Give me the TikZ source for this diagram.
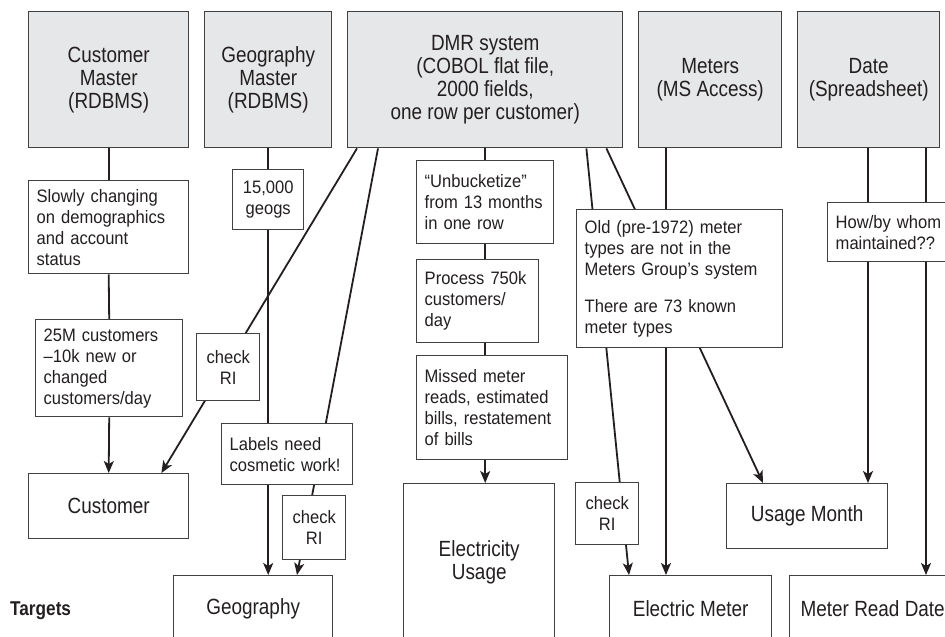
\documentclass[tikz,border=0pt]{standalone}
\usepackage{fontspec}
\setmainfont{Liberation Sans}
\newfontfamily\smallff[FakeStretch=0.92]{Liberation Sans}
\newfontfamily\bigff[FakeStretch=0.86]{Liberation Sans}
\usetikzlibrary{arrows.meta,backgrounds}
\definecolor{boxgray}{RGB}{230,231,232}
\definecolor{ink}{RGB}{35,31,32}
\definecolor{edgec}{RGB}{64,64,64}
\tikzset{
 srcbox/.style={draw=edgec, line width=1.4pt, fill=boxgray, anchor=north west, inner sep=0pt, align=center, font=\bigff\fontsize{22}{23}\selectfont, text=ink},
 tgtbox/.style={draw=edgec, line width=1.4pt, fill=white, anchor=north west, inner sep=0pt, align=center, font=\bigff\fontsize{22}{23}\selectfont, text=ink},
 notebox/.style={draw=edgec, line width=1.4pt, fill=white, anchor=north west, inner xsep=8pt, inner ysep=0pt, align=left, font=\smallff\fontsize{18}{21}\selectfont, text=ink},
 cnote/.style={notebox, align=center, inner xsep=0pt},
 conn/.style={draw=ink, line width=1.8pt},
 arr/.style={conn, -{Stealth[length=12pt,width=10pt,inset=3pt]}},
}
\begin{document}
\begin{tikzpicture}[x=1pt,y=-1pt]
\useasboundingbox (0,0) rectangle (945,637);
\clip (0,0) rectangle (945,637);
% sources
\node[srcbox, minimum width=160pt, minimum height=136pt] (cm) at (28,11) {Customer\\Master\\(RDBMS)};
\node[srcbox, minimum width=127pt, minimum height=136pt] (gm) at (204,11) {Geography\\Master\\(RDBMS)};
\node[srcbox, minimum width=275pt, minimum height=136pt] (dmr) at (347,11) {DMR system\\(COBOL flat file,\\2000 fields,\\one row per customer)};
\node[srcbox, minimum width=143pt, minimum height=136pt] (met) at (638,11) {Meters\\(MS Access)};
\node[srcbox, minimum width=142pt, minimum height=136pt] (date) at (797,11) {Date\\(Spreadsheet)};
% notes
\node[notebox, text width=144pt, minimum height=93pt] (slowly) at (28,180) {Slowly changing\\on demographics\\and account\\status};
\node[notebox, text width=131pt, minimum height=97pt] (m25) at (35,319) {25M customers\\–10k new or\\changed\\customers/day};
\node[cnote, minimum width=71pt, minimum height=60pt] (geo15) at (232,169) {15,000\\geogs};
\node[cnote, minimum width=63pt, minimum height=67pt] (chk1) at (196,333) {check\\RI};
\node[notebox, text width=115pt, minimum height=61pt] (labels) at (221,423) {Labels need\\cosmetic work!};
\node[cnote, minimum width=63pt, minimum height=64pt] (chk2) at (282,495) {check\\RI};
\node[notebox, text width=121pt, minimum height=83pt] (unb) at (416,160) {“Unbucketize”\\from 13 months\\in one row};
\node[notebox, text width=106pt, minimum height=83pt] (proc) at (416,259) {Process 750k\\customers/\\day};
\node[notebox, text width=135pt, minimum height=104pt] (missed) at (416,355) {Missed meter\\reads, estimated\\bills, restatement\\of bills};
\node[notebox, text width=190pt, minimum height=138pt] (old) at (576,209) {Old (pre-1972) meter\\types are not in the\\Meters Group’s system\\[16pt]There are 73 known\\meter types};
\node[cnote, minimum width=63pt, minimum height=62pt] (chk3) at (575,482) {check\\RI};
\node[notebox, text width=114pt, minimum height=59pt] (how) at (827,202) {How/by whom\\maintained??};
% targets
\node[tgtbox, minimum width=160pt, minimum height=65pt] (cust) at (28,473) {Customer};
\node[tgtbox, minimum width=159pt, minimum height=66pt] (geog) at (173,575) {Geography};
\node[tgtbox, minimum width=151pt, minimum height=158pt] (elus) at (403,483) {Electricity\\Usage};
\node[tgtbox, minimum width=161pt, minimum height=65pt] (usm) at (726,483) {Usage Month};
\node[tgtbox, minimum width=162pt, minimum height=66pt] (elm) at (609,575) {Electric Meter};
\node[tgtbox, minimum width=166pt, minimum height=66pt] (mrd) at (789,575) {Meter Read Date};
\node[anchor=base west, inner sep=0pt, text=ink, font=\bigff\bfseries\fontsize{20}{22}\selectfont] (tg) at (10,615) {Targets};
% connectors
\begin{pgfonlayer}{background}
\draw[conn] (cm.south) -- (slowly.north);
\draw[conn] (slowly.south) -- (m25.north);
\draw[arr] (m25.south) -- (cust.north);
\draw[arr] ([xshift=10pt]dmr.south west) -- ([xshift=-28pt]cust.north east);
\draw[arr] ([xshift=31pt]dmr.south west) -- ([xshift=124pt]geog.north west);
\draw[arr] (gm.south) -- (gm.south |- geog.north);
\draw[arr] (dmr.south) -- (dmr.south |- elus.north);
\draw[arr] ([xshift=-37pt]dmr.south east) -- ([xshift=20pt]elm.north west);
\draw[arr] ([xshift=-17pt]dmr.south east) -- ([xshift=37pt]usm.north west);
\draw[arr] ([xshift=28pt]met.south west) coordinate (m1) -- (m1 |- elm.north);
\draw[arr] ([xshift=71pt]date.south west) coordinate (dt1) -- (dt1 |- usm.north);
\draw[arr] ([xshift=129pt]date.south west) coordinate (dt2) -- (dt2 |- mrd.north);
\end{pgfonlayer}
\end{tikzpicture}
\end{document}
